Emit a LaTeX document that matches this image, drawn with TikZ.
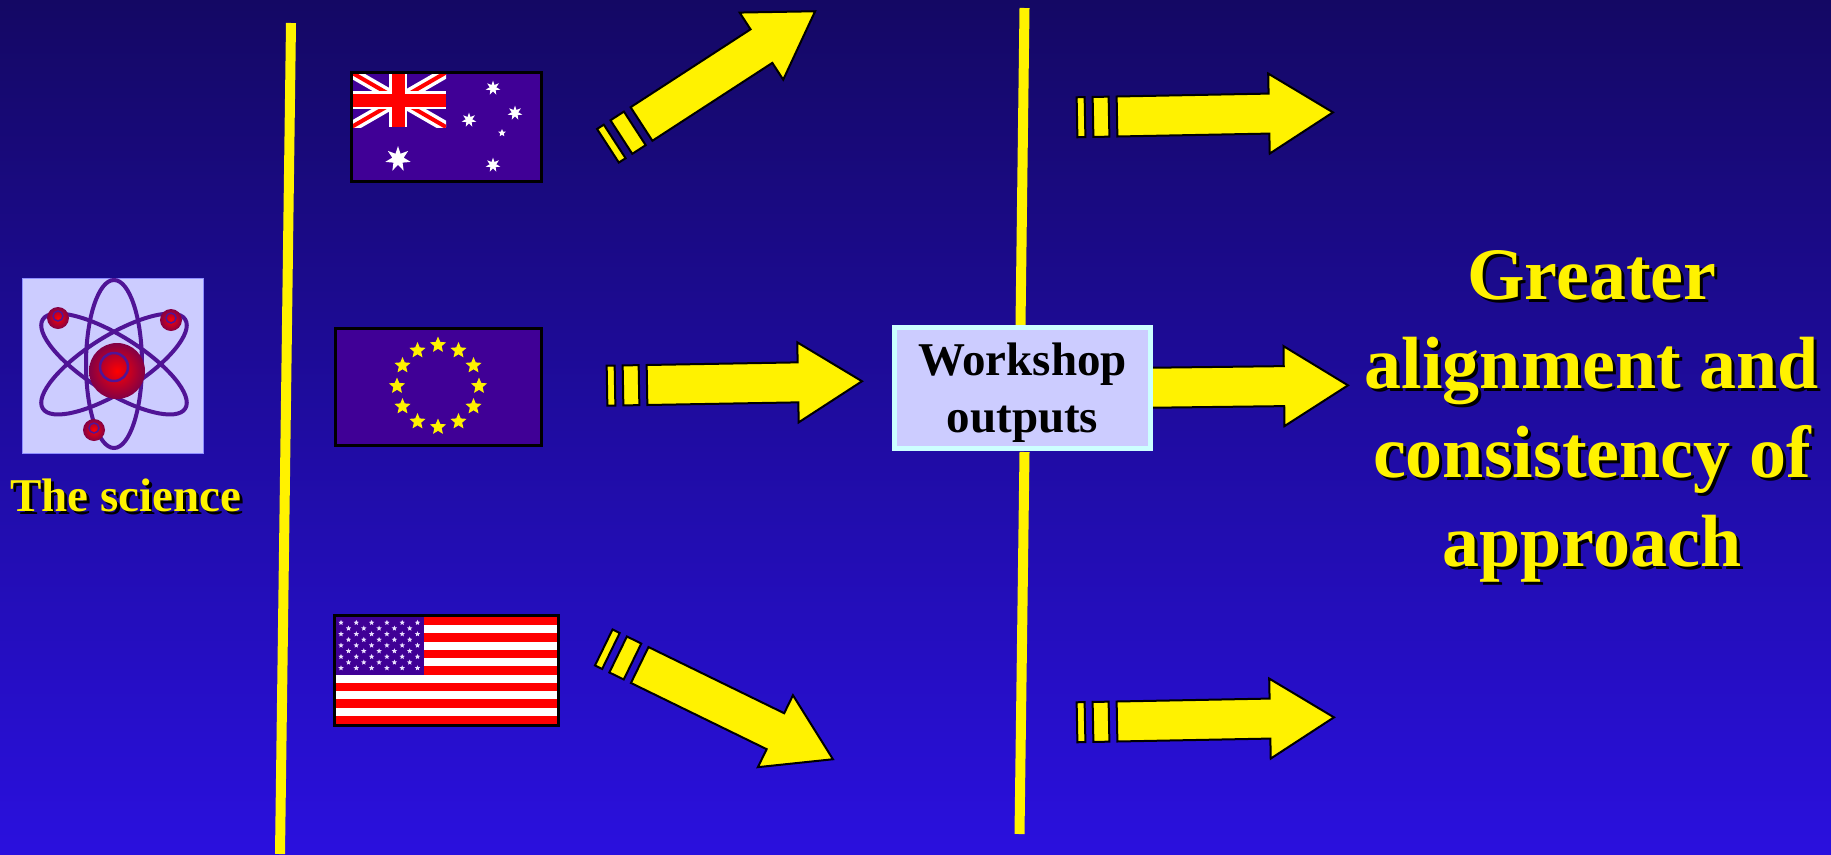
\documentclass[tikz,border=0pt]{standalone}
\usepackage{fontspec}
\setmainfont{Liberation Serif}

\definecolor{bgtop}{RGB}{20,8,100}
\definecolor{bgbottom}{RGB}{42,16,222}
\definecolor{flagblue}{RGB}{64,0,150}
\definecolor{orbit}{RGB}{80,20,150}
\definecolor{lavender}{RGB}{204,204,255}
\definecolor{palecyan}{RGB}{204,255,255}
\definecolor{ballred}{RGB}{255,0,0}
\definecolor{balldark}{RGB}{130,0,70}
\definecolor{starwhite}{RGB}{235,225,255}

\tikzset{
  divider/.style={yellow, line width=10},
  arrowbody/.style={fill=yellow, draw=black, line width=2, line join=miter},
  flagframe/.style={draw=black, line width=3},
  headline/.style={text=yellow, align=center, inner sep=0},
  drop/.style={text=black},
  electron/.style={inner color=ballred, outer color=balldark},
  pics/fatarrow/.style={code={
    \path[arrowbody] (-40,-20) rectangle (-32,20);
    \path[arrowbody] (-24,-20) rectangle (-8,20);
    \path[arrowbody] (0,-20) -- (#1,-20) -- (#1,-40) -- (#1+64,0) -- (#1,40) -- (#1,20) -- (0,20) -- cycle;
  }},
  pics/flagstar/.style 2 args={code={
    \pgfmathtruncatemacro\lastpt{2*#1-1}
    \fill (-90:#2) \foreach \k in {1,...,\lastpt} {-- ({-90+\k*180/#1}:{ifthenelse(isodd(\k),0.45*#2,#2)})} -- cycle;
  }},
}

\begin{document}
\begin{tikzpicture}[x=1pt, y=-1pt]
  \useasboundingbox (0,0) rectangle (1831,854);
  \shade[top color=bgtop, bottom color=bgbottom] (0,0) rectangle (1831,854);

  % the science
  \filldraw[fill=lavender, draw=lavender!70!blue] (22,278) rectangle (203,453);
  \coordinate (atomc) at (114,364);
  \foreach \a in {90, 32, -32}
    \draw[orbit, line width=4, rotate around={\a:(atomc)}] (atomc) ellipse [x radius=84, y radius=28];
  \shade[electron] (117,371) circle [radius=28];
  \draw[orbit, line width=2.5] (114,367) circle [radius=14];
  \foreach \ex/\ey in {58/318, 171/320, 94/430} {
    \shade[electron] (\ex,\ey) circle [radius=11];
    \draw[orbit, line width=1.5] (\ex,\ey-2) circle [radius=5];
  }
  \node[headline, drop, anchor=base, font=\fontsize{47}{56}\selectfont\bfseries] (scienceshadow) at (129,514) {The science};
  \node[headline, anchor=base, font=\fontsize{47}{56}\selectfont\bfseries] (science) at (126,511) {The science};

  % dividers
  \draw[divider] (291,23) -- (280,854);
  \draw[divider] (1024.5,8) -- (1020.5,325);
  \draw[divider] (1024.5,452) -- (1019.5,834);

  % australia
  \fill[flagblue] (351.5,72.5) rectangle (541.5,181.5);
  \begin{scope}
    \clip (351.5,72.5) rectangle (446,127);
    \draw[white, line width=11] (351.5,72.5) -- (446,127) (351.5,127) -- (446,72.5);
    \draw[red, line width=4] (351.5,72.5) -- (446,127) (351.5,127) -- (446,72.5);
    \draw[white, line width=18] (398,72.5) -- (398,127) (351.5,100) -- (446,100);
    \draw[red, line width=13] (398,72.5) -- (398,127) (351.5,100) -- (446,100);
  \end{scope}
  \pic[white] at (398,159) {flagstar={7}{13}};
  \foreach \sx/\sy in {493/88, 469/120, 515/113, 493/165}
    \pic[white] at (\sx,\sy) {flagstar={7}{7.5}};
  \pic[white] at (502,133) {flagstar={5}{4}};
  \draw[flagframe] (351.5,72.5) rectangle (541.5,181.5);

  % europe
  \fill[flagblue] (335.5,328.5) rectangle (541.5,445.5);
  \foreach \k in {0,...,11}
    \pic[yellow] at ({438+41*cos(\k*30)},{386+41*sin(\k*30)}) {flagstar={5}{8.5}};
  \draw[flagframe] (335.5,328.5) rectangle (541.5,445.5);

  % united states
  \fill[white] (336,617) rectangle (557,724);
  \foreach \s in {0,2,...,12}
    \fill[red] (336,{617+\s*107/13}) rectangle (557,{617+(\s+1)*107/13});
  \fill[flagblue] (336,617) rectangle (424,{617+7*107/13});
  \foreach \r in {0,...,8} {
    \pgfmathtruncatemacro\odd{mod(\r,2)}
    \ifnum\odd=0
      \foreach \c in {0,...,5}
        \pic[starwhite] at ({341+\c*15.3},{622.7+\r*5.67}) {flagstar={5}{2.8}};
    \else
      \foreach \c in {0,...,4}
        \pic[starwhite] at ({348.5+\c*15.3},{622.7+\r*5.67}) {flagstar={5}{2.8}};
    \fi
  }
  \draw[flagframe] (334.5,615.5) rectangle (558.5,725.5);

  % arrows
  \pic[rotate=33] at (641.5,124) {fatarrow=143};
  \pic[rotate=1] at (647,385) {fatarrow=151};
  \pic[rotate=-26] at (639.7,665) {fatarrow=151};
  \pic[rotate=0.7] at (1130,388) {fatarrow=154};
  \pic[rotate=1.1] at (1117,116.5) {fatarrow=152};
  \pic[rotate=1.1] at (1117,721.5) {fatarrow=153};

  \node[draw=palecyan, line width=5, fill=lavender, minimum width=256, minimum height=121, inner sep=0] (workshop) at (1022.5,388) {};
  \node[align=center, inner sep=0, font=\fontsize{47}{57}\selectfont\bfseries] (workshoptext) at (1022.5,393) {Workshop\\outputs};

  \node[headline, drop, font=\fontsize{74}{89}\selectfont\bfseries] (outcomeshadow) at (1595,419)
    {Greater\\alignment and\\consistency of\\approach};
  \node[headline, font=\fontsize{74}{89}\selectfont\bfseries] (outcome) at (1592,416)
    {Greater\\alignment and\\consistency of\\approach};
\end{tikzpicture}
\end{document}
